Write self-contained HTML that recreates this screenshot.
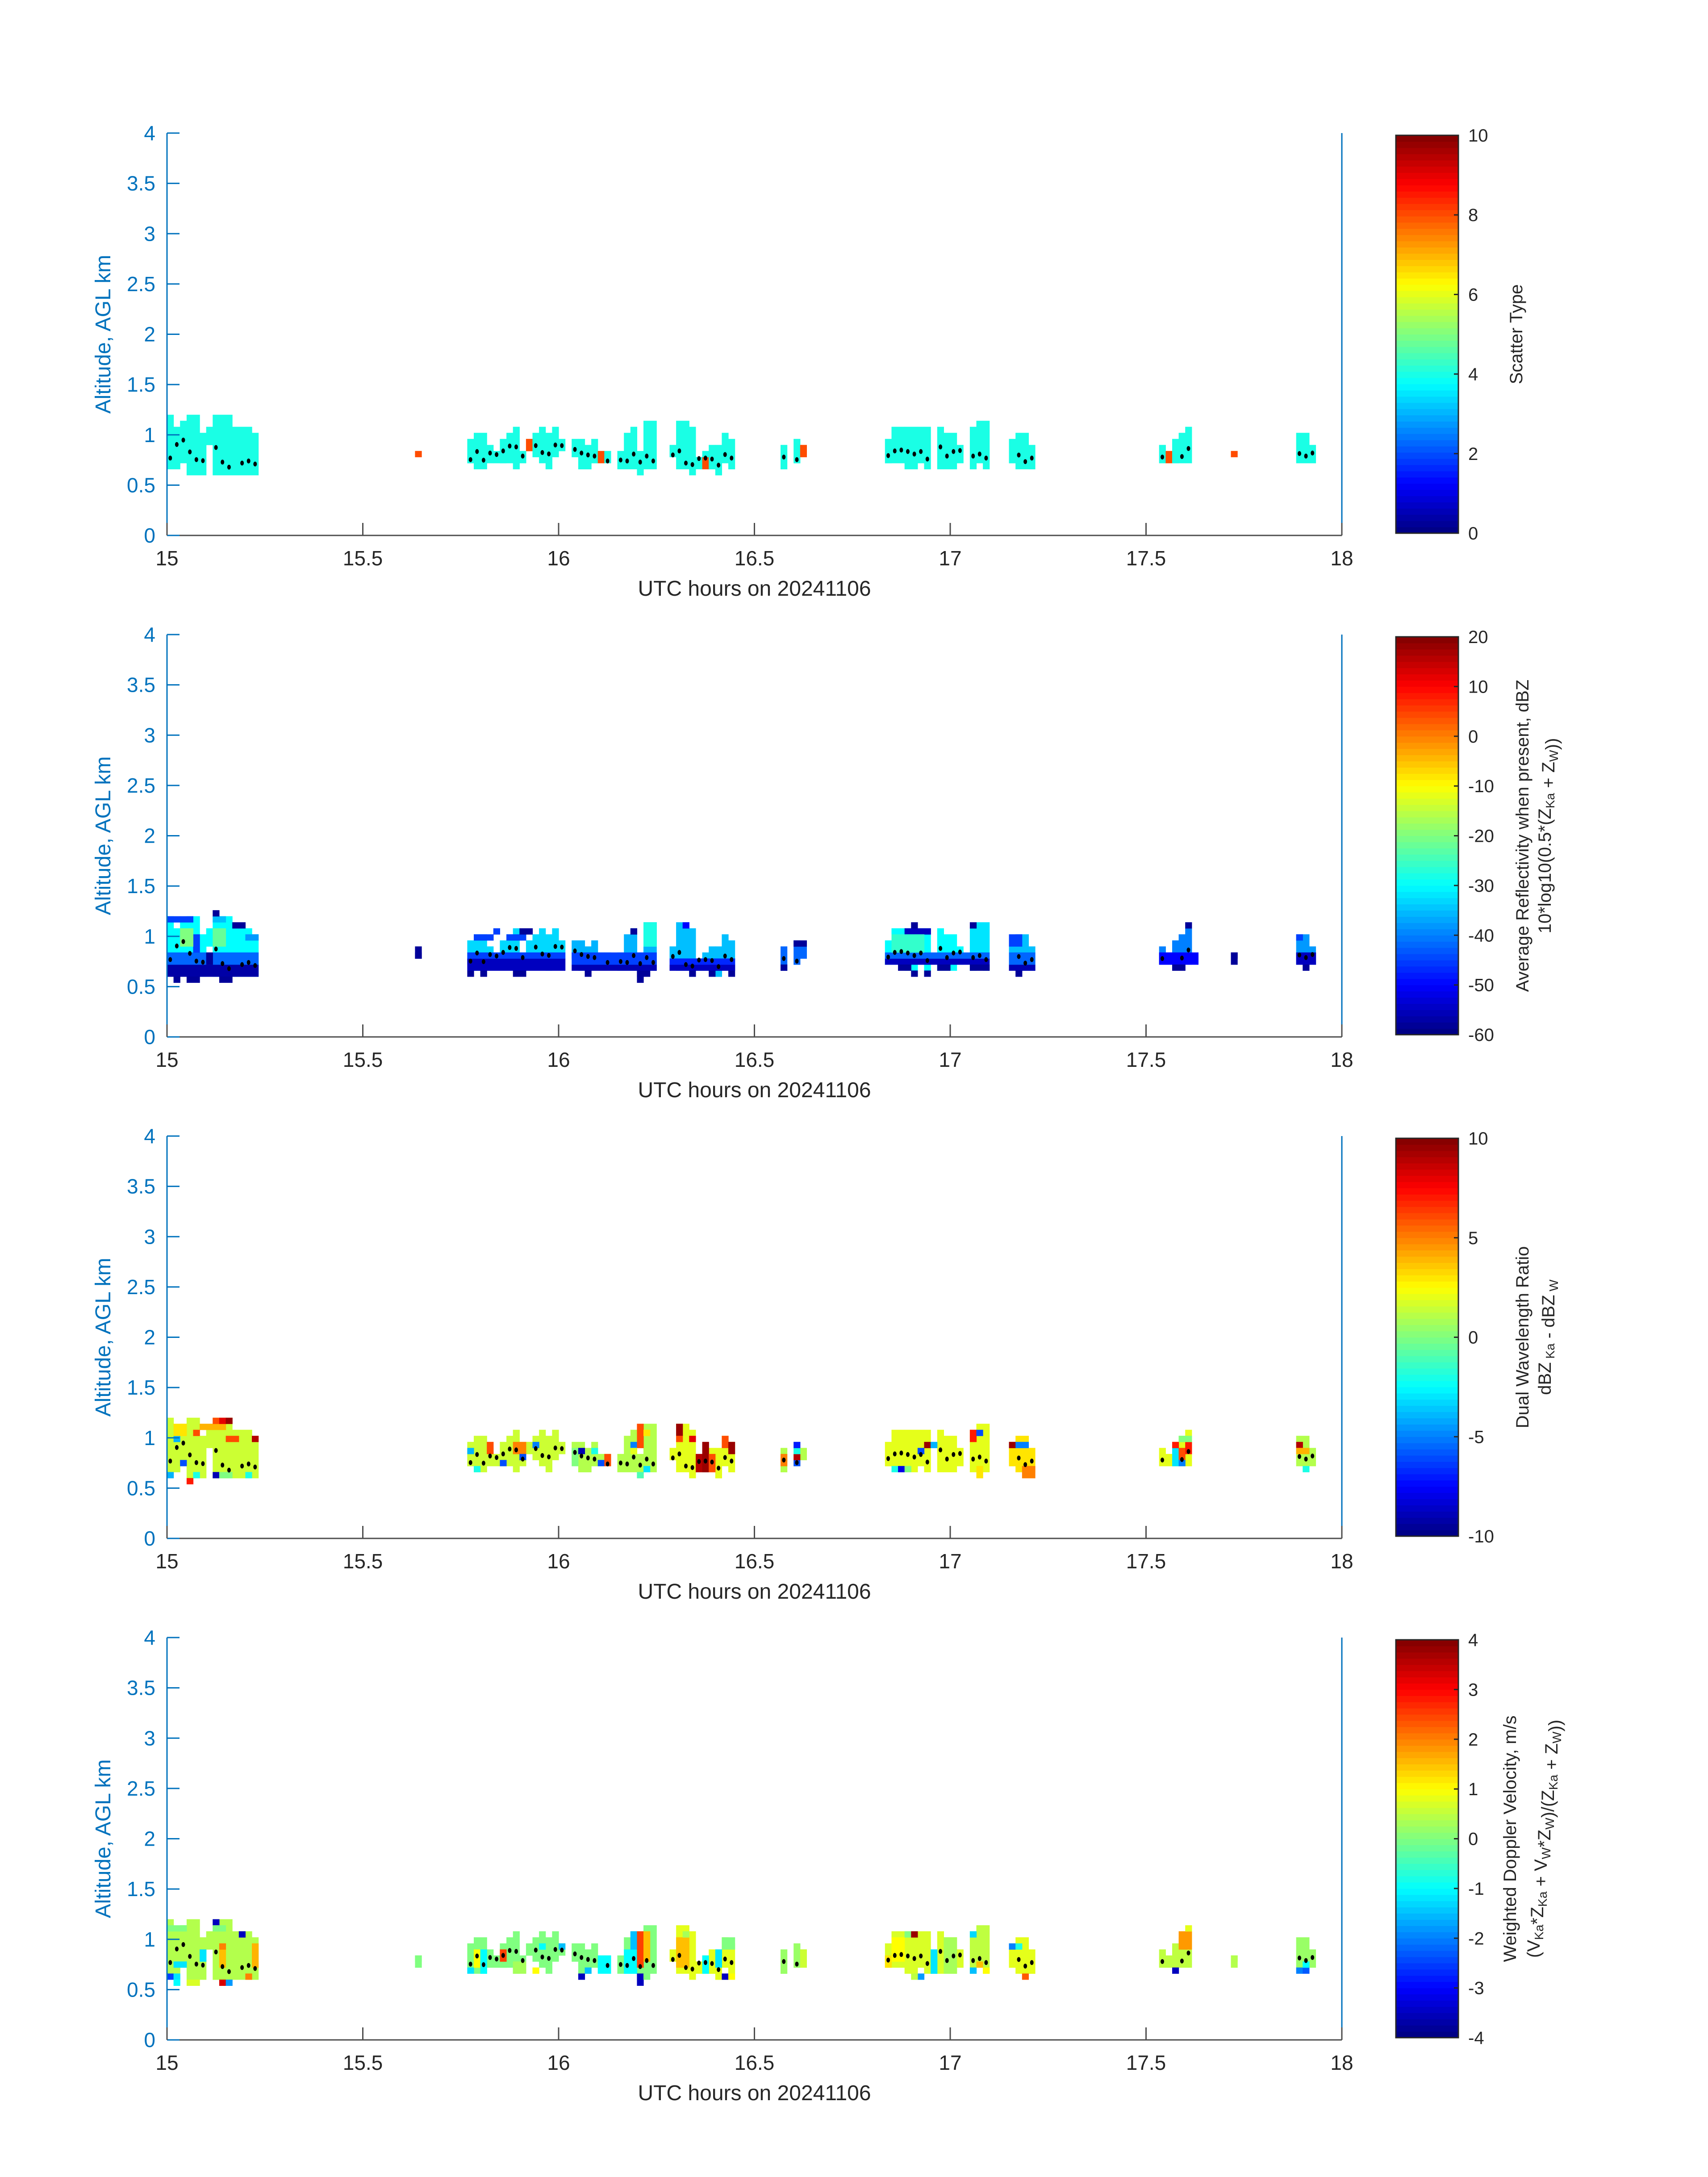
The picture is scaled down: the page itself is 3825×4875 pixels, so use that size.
<!DOCTYPE html>
<html><head><meta charset="utf-8"><style>
html,body{margin:0;padding:0;background:#fff}
svg{display:block;font-family:"Liberation Sans","DejaVu Sans",sans-serif}
</style></head><body>
<svg id="fig" width="3825" height="4875" viewBox="0 0 3825 4875" xmlns="http://www.w3.org/2000/svg">
<rect width="3825" height="4875" fill="#fff"/>
</svg>
<script>
// ---- data ----
const xTicks = [15, 15.5, 16, 16.5, 17, 17.5, 18];
const xTickLabels = ["15", "15.5", "16", "16.5", "17", "17.5", "18"];
const yTicks = [0, 0.5, 1, 1.5, 2, 2.5, 3, 3.5, 4];
const yTickLabels = ["0", "0.5", "1", "1.5", "2", "2.5", "3", "3.5", "4"];
// cells: [startMinute, endMinute, lowRowEdge, highRowEdge, value]; row edge km = 0.54 + 0.06*edge
const cells1 = [[0,1,2,11,4],[1,2,2,9,4],[2,3,3,10,4],[3,5,1,11,4],[5,6,1,8,4],[6,7,6,9,4],[7,10,1,11,4],[10,13,1,9,4],[13,14,1,8,4],
[38,39,4,5,8],
[46,47,3,7,4],[47,49,2,8,4],[49,50,3,6,4],[50,51,3,5,4],[51,52,3,7,4],[52,53,3,8,4],[53,54,2,9,4],[54,55,3,5,4],[55,56,5,7,8],[56,57,4,8,4],[57,58,3,9,4],[58,59,2,8,4],[59,60,4,9,4],[60,61,5,7,4],
[62,63,4,7,4],[63,64,2,7,4],[64,65,2,6,4],[65,66,3,7,4],[66,67,3,5,8],[67,68,3,5,4],[69,70,2,5,4],[70,71,2,8,4],[71,72,2,9,4],[72,73,1,5,4],[73,75,2,10,4],[77,78,4,6,4],[78,80,2,10,4],[80,81,1,9,4],[81,82,2,4,4],[82,83,2,4,8],[82,83,4,5,4],[83,84,2,6,4],[84,85,1,6,4],[85,86,3,8,4],[86,87,2,7,4],
[94,95,2,6,4],[96,97,3,7,4],[97,98,4,6,8],
[110,111,3,7,4],[111,113,3,9,4],[113,115,2,9,4],[115,116,3,9,4],[116,117,2,9,4],[118,119,2,9,4],[119,121,2,8,4],[121,122,3,6,4],
[123,124,2,9,4],[124,125,3,10,4],[125,126,2,10,4],
[129,130,3,7,4],[130,132,2,8,4],[132,133,2,6,4],
[152,153,3,6,4],[153,154,3,5,8],[154,155,3,7,4],[155,156,3,8,4],[156,157,3,9,4],
[163,164,4,5,8],
[173,175,3,8,4],[175,176,3,6,4]];
// per-cluster base values for panels 2-4 (cluster starts at minute); null = cluster absent
const clusterStart = [0,38,46,62,77,94,110,123,129,152,163,173];
const baseVal2 = [-30,-58,-33,-36,-35,-42,-30,-32,-35,-40,-58,-38];
const baseVal3 = [1.5,null,1.5,1,2,1,2,2,3,2,null,1];
const baseVal4 = [0.4,0,0,0,0.8,0.2,0.7,0.5,0.8,0.5,0.4,0.2];
const cells2 = [[0,14,1,3,-57],[0,14,3,5,-42],[0,2,10,11,-45],[2,4,10,11,-45],[7,9,10,11,-35],[7,8,11,12,-58],[10,12,9,10,-58],[12,14,7,8,-38],[1,2,0,1,-58],[3,5,0,1,-58],[8,10,0,1,-58],[4,5,5,8,-45],[6,7,3,5,-58],[2,4,6,9,-20],[7,9,6,9,-22],
[38,39,4,6,-58],
[46,61,2,4,-55],[46,61,4,5,-45],[47,50,7,8,-45],[52,55,7,8,-45],[54,56,8,9,-58],[50,51,8,9,-45],[46,47,1,2,-58],[48,49,1,2,-58],[53,55,1,2,-58],
[62,75,2,3,-56],[62,75,3,5,-45],[71,72,8,9,-58],[64,65,1,2,-58],[72,74,1,2,-58],[72,73,0,1,-58],[73,75,6,10,-28],
[77,87,2,3,-55],[77,87,3,4,-47],[79,80,9,10,-50],[80,81,1,2,-58],[83,84,1,2,-58],[86,87,1,2,-58],
[94,95,2,3,-58],[96,98,6,7,-58],
[110,126,3,4,-55],[110,126,4,5,-42],[113,117,8,9,-55],[114,115,9,10,-58],[123,124,9,10,-58],[112,114,2,3,-58],[118,120,2,3,-58],[123,126,2,3,-58],[114,115,1,2,-58],[116,117,1,2,-58],[111,116,5,8,-26],
[129,133,2,3,-56],[129,133,3,5,-42],[129,131,6,8,-45],[130,131,1,2,-58],
[152,158,3,5,-50],[156,157,9,10,-58],[154,156,2,3,-58],
[163,164,3,5,-58],
[173,176,3,5,-55],[173,174,7,8,-45],[174,175,2,3,-58]];
const cells3 = [[5,9,9,10,4],[7,8,10,11,6],[8,9,10,11,8],[9,10,10,11,9.5],[4,5,8,9,6],[9,11,7,8,6],[13,14,7,8,9],[2,3,3,4,-6],[0,1,1,2,-4],[4,5,1,2,-2],[7,8,1,2,-9],[8,10,1,2,0],[12,13,1,2,-2],[3,4,0,1,7],[1,2,7,8,-4],[1,3,8,10,3],
[46,47,5,6,-4],[49,50,5,7,6],[51,52,3,4,-6],[53,55,5,7,5],[56,57,6,7,-5],[54,55,4,5,-6],[47,48,2,3,-2],
[62,63,3,6,0],[63,64,5,6,-9],[65,66,5,6,-2],[66,67,3,4,-6],[67,68,3,5,6],[71,72,6,7,-5],[72,73,6,10,6],[73,74,8,9,3],[72,73,1,2,-1],[73,74,2,3,-3],[71,72,5,6,2],
[78,79,8,10,9.5],[78,79,7,8,6],[80,81,7,8,8],[81,82,2,5,9],[82,83,2,7,9.5],[83,84,2,5,6],[85,86,6,8,6],[86,87,5,7,9.5],
[94,95,3,5,5],[96,97,3,4,-6],[96,97,4,5,9],[96,97,5,6,-2],[96,97,6,7,-7],
[111,112,2,3,-2],[112,113,2,3,-8],[113,114,2,3,0],[115,116,5,6,-6],[116,117,6,7,9.5],[117,118,6,7,-4],[118,119,5,6,2],[123,124,7,9,7],[124,125,8,9,-6],[124,125,1,3,3],
[129,130,6,7,9.5],[130,131,6,7,-5],[131,132,6,7,-5],[131,133,1,3,5],
[154,155,3,6,-3],[154,155,6,7,7],[155,156,4,6,6],[156,157,5,7,7],[155,157,7,8,0],[155,156,3,4,-5],
[173,174,6,7,9],[173,175,5,6,4],[174,175,2,3,-2]];
const cells4 = [[0,3,9,10,0],[7,8,10,11,-3.5],[7,9,9,10,0],[11,12,8,9,-3.5],[8,9,3,7,1.5],[8,9,6,7,2],[13,14,3,7,1.6],[0,1,1,2,-2.5],[1,2,1,2,-1.2],[1,2,0,1,-1],[3,5,0,1,0.7],[8,9,0,1,3.3],[9,10,0,1,-1.8],[12,13,1,2,2],[5,6,4,6,-1.2],[1,3,3,4,-1.2],
[38,39,3,5,0],
[46,47,2,3,-1.2],[47,48,3,6,1],[48,49,2,6,-1],[51,52,4,6,2.5],[53,55,2,4,0.3],[56,57,2,3,1],[57,58,6,7,-1],[60,61,6,7,-1.5],
[63,64,1,2,-3.5],[64,65,2,3,-1.5],[66,68,2,5,-1],[70,72,2,6,-1],[71,72,6,9,-1.5],[72,73,3,9,2.5],[73,74,4,9,1.5],[72,73,0,2,-3.5],[73,74,1,2,0],
[78,80,3,8,1.5],[79,80,8,9,0.3],[82,83,2,5,-1],[84,85,3,6,-1.2],[85,86,1,2,-3.5],[86,87,1,2,1],[85,87,6,8,0],
[97,98,3,6,0.6],
[110,111,3,5,1.2],[111,113,4,8,1],[113,114,8,9,0],[114,115,8,9,3.8],[117,118,2,6,-1.2],[119,121,2,8,0.3],[123,124,2,3,-1.5],[123,124,8,9,-1.3],[124,125,3,4,1.5],[125,126,2,3,1],[115,116,1,2,-1.8],[114,115,1,2,0.5],
[129,130,6,7,-2],[130,131,6,7,-0.8],[131,132,1,2,2.3],
[154,155,2,3,-3.5],[155,157,6,9,1.8],[156,157,9,10,0.8],
[163,164,3,5,0.4],
[173,174,2,3,-2],[174,175,2,3,-2.3],[174,175,3,4,-1]];
// mean-altitude dots: minute index and altitude km
const dotMinutes = [0,1,2,3,4,5,7,8,9,11,12,13,46,47,48,49,50,51,52,53,54,56,57,58,59,60,62,63,64,65,67,69,70,71,72,73,74,77,78,79,80,81,82,83,84,85,86,94,96,110,111,112,113,114,115,116,118,119,120,121,123,124,125,130,131,132,152,155,156,173,174,175];
const dotAlts = [0.769,0.904,0.948,0.83,0.754,0.743,0.874,0.729,0.679,0.719,0.74,0.71,0.754,0.834,0.748,0.819,0.804,0.84,0.889,0.88,0.789,0.893,0.824,0.81,0.899,0.893,0.855,0.819,0.8,0.789,0.74,0.75,0.74,0.809,0.729,0.789,0.74,0.8,0.84,0.719,0.704,0.764,0.769,0.759,0.699,0.804,0.769,0.779,0.754,0.794,0.84,0.849,0.834,0.809,0.834,0.759,0.88,0.789,0.834,0.844,0.789,0.809,0.769,0.799,0.734,0.769,0.779,0.784,0.864,0.814,0.789,0.819];
const cbTicks1 = [0,2,4,6,8,10];
const cbTicks2 = [-60,-50,-40,-30,-20,-10,0,10,20];
const cbTicks3 = [-10,-5,0,5,10];
const cbTicks4 = [-4,-3,-2,-1,0,1,2,3,4];

// ---- layout ----
const NS = "http://www.w3.org/2000/svg";
const svg = document.getElementById("fig");
const X0 = 374, X1 = 3005, PH = 901;
const tops = [298, 1421, 2544, 3667];
const CBX = 3126, CBW = 140;
function mk(tag, attrs, parent) { const e = document.createElementNS(NS, tag); for (const k in attrs) e.setAttribute(k, attrs[k]); (parent || svg).appendChild(e); return e; }
function xs(h) { return X0 + (h - 15) / 3 * (X1 - X0); }
function jet(t) {
  t = Math.max(0, Math.min(1, t));
  const c = v => Math.round(255 * Math.max(0, Math.min(1, v)));
  return "rgb(" + c(1.5 - Math.abs(4 * t - 3)) + "," + c(1.5 - Math.abs(4 * t - 2)) + "," + c(1.5 - Math.abs(4 * t - 1)) + ")";
}
function clusterIndex(m) { let k = 0; for (let i = 0; i < clusterStart.length; i++) if (m >= clusterStart[i]) k = i; return k; }
const panels = [
  {cells: cells1, base: null, vmin: 0, vmax: 10, ticks: cbTicks1, name: "scatter-type", lab: [["Scatter Type"]], labX: [3395]},
  {cells: cells2, base: baseVal2, vmin: -60, vmax: 20, ticks: cbTicks2, name: "reflectivity", lab: [["Average Reflectivity when present, dBZ"], ["10*log10(0.5*(Z", ["Ka"], " + Z", ["W"], "))"]], labX: [3409, 3459]},
  {cells: cells3, base: baseVal3, vmin: -10, vmax: 10, ticks: cbTicks3, name: "dual-wavelength-ratio", lab: [["Dual Wavelength Ratio"], ["dBZ", [" Ka"], " - dBZ", [" W"]]], labX: [3409, 3459]},
  {cells: cells4, base: baseVal4, vmin: -4, vmax: 4, ticks: cbTicks4, name: "doppler-velocity", lab: [["Weighted Doppler Velocity, m/s"], ["(V", ["Ka"], "*Z", ["Ka"], " + V", ["W"], "*Z", ["W"], ")/(Z", ["Ka"], " + Z", ["W"], "))"]], labX: [3381, 3434]}
];
panels.forEach((p, i) => {
  const T = tops[i], B = T + PH;
  const ys = a => B - a / 4 * PH;
  const g = mk("g", {});
  
  
  function drawCell(c, v) {
    const xa = xs(15 + c[0] / 60), xb = xs(15 + c[1] / 60);
    const ya = ys(0.54 + 0.06 * c[3]), yb = ys(0.54 + 0.06 * c[2]);
    const r = mk("rect", {x: xa.toFixed(1), y: ya.toFixed(1), width: (xb - xa + 0.6).toFixed(1), height: (yb - ya + 0.6).toFixed(1), fill: jet((v - p.vmin) / (p.vmax - p.vmin))}, g);
    
    
  }
  if (p.base) cells1.forEach(c => { const v = p.base[clusterIndex(c[0])]; if (v !== null) drawCell(c, v); });
  p.cells.forEach(c => drawCell(c, c[4]));
  // dots
  dotMinutes.forEach((m, k) => {
    const d = mk("ellipse", {cx: xs(15 + (m + 0.5) / 60).toFixed(1), cy: ys(dotAlts[k]).toFixed(1), rx: 4, ry: 5.5, fill: "#000"}, g);
    
    
  });
  // axes
  const ya = mk("line", {x1: X0, y1: T, x2: X0, y2: B, stroke: "#0072BD", "stroke-width": 3}, g);
  
  
  const yr = mk("line", {x1: X1, y1: T, x2: X1, y2: B, stroke: "#0072BD", "stroke-width": 3}, g);
  
  
  const xa = mk("line", {x1: X0, y1: B, x2: X1, y2: B, stroke: "#4d4d4d", "stroke-width": 3}, g);
  
  
  yTicks.forEach((v, k) => {
    const y = ys(v);
    const t = mk("line", {x1: X0, y1: y, x2: X0 + 28, y2: y, stroke: "#0072BD", "stroke-width": 3}, g);
    
    
    const tl = mk("text", {x: 348, y: y + 16, "font-size": 46, fill: "#0072BD", "text-anchor": "end"}, g);
    tl.textContent = yTickLabels[k];
    
    
  });
  xTicks.forEach((v, k) => {
    const x = xs(v);
    const t = mk("line", {x1: x, y1: B, x2: x, y2: B - 28, stroke: "#4d4d4d", "stroke-width": 3}, g);
    
    
    const tl = mk("text", {x: x, y: B + 67, "font-size": 46, fill: "#262626", "text-anchor": "middle"}, g);
    tl.textContent = xTickLabels[k];
    
    
  });
  const xt = mk("text", {x: (X0 + X1) / 2, y: B + 135, "font-size": 48, fill: "#262626", "text-anchor": "middle"}, g);
  xt.textContent = "UTC hours on 20241106";
  
  
  const yt = mk("text", {x: 0, y: 0, "font-size": 48, fill: "#0072BD", "text-anchor": "middle", transform: "translate(247," + (T + PH * 0.5) + ") rotate(-90)"}, g);
  yt.textContent = "Altitude, AGL km";
  
  
  // colorbar
  const cT = T + 5, cB = B - 5, n = 64, h = (cB - cT) / n;
  for (let s = 0; s < n; s++) {
    const r = mk("rect", {x: CBX, y: (cB - (s + 1) * h).toFixed(1), width: CBW, height: (h + 0.6).toFixed(1), fill: jet((s + 0.5) / n)}, g);
    
    
  }
  const fr = mk("rect", {x: CBX, y: cT, width: CBW, height: cB - cT, fill: "none", stroke: "#262626", "stroke-width": 3}, g);
  
  
  p.ticks.forEach(v => {
    const y = cB - (v - p.vmin) / (p.vmax - p.vmin) * (cB - cT);
    const t = mk("line", {x1: CBX + CBW - 10, y1: y, x2: CBX + CBW, y2: y, stroke: "#262626", "stroke-width": 3}, g);
    
    
    const tl = mk("text", {x: CBX + CBW + 22, y: y + 14, "font-size": 40, fill: "#262626"}, g);
    tl.textContent = String(v);
    
    
  });
  p.lab.forEach((line, li) => {
    const tx = mk("text", {x: 0, y: 0, "font-size": 40, fill: "#262626", "text-anchor": "middle", transform: "translate(" + (p.labX[li] + 14) + "," + (T + PH / 2) + ") rotate(-90)"}, g);
    
    
    line.forEach(part => {
      if (typeof part === "string") { const ts = mk("tspan", {}, tx); ts.textContent = part; }
      else { const ts = mk("tspan", {"font-size": 28, dy: 8}, tx); ts.textContent = part[0]; const back = mk("tspan", {dy: -8}, tx); back.textContent = ""; }
    });
  });
});
</script>
</body></html>
